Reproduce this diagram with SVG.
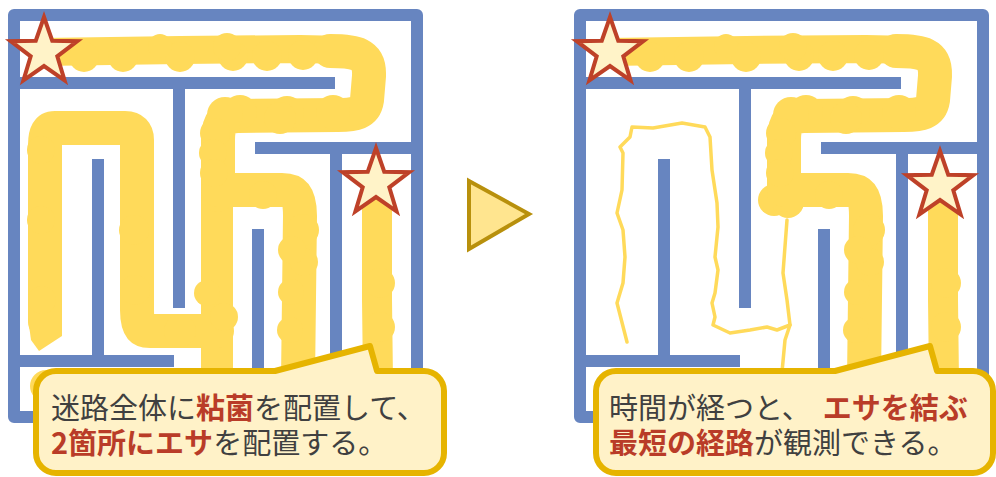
<svg xmlns="http://www.w3.org/2000/svg" xmlns:xlink="http://www.w3.org/1999/xlink" width="996" height="477" viewBox="0 0 996 477">
  <style>
    .wall { fill: none; stroke: #6785c0; stroke-width: 12; }
    .wall-outer { fill: none; stroke: #6785c0; stroke-width: 12; stroke-linejoin: round; }
    .slime { fill: none; stroke: #ffda5a; stroke-linecap: round; stroke-linejoin: round; }
    .slime-fill { fill: #ffda5a; }
    .trace { fill: none; stroke: #ffda5a; stroke-width: 3.5; stroke-linecap: round; stroke-linejoin: round; }
    .star { fill: #fff3c8; stroke: #be4128; stroke-width: 4; stroke-linejoin: miter; }
    .callout { fill: #fff2c8; stroke: #e6b400; stroke-width: 6; stroke-linejoin: round; }
    .caption { font-family: "Noto Sans CJK JP", "Noto Sans", sans-serif; font-size: 29px; fill: #404040; }
    .em { fill: #b93c28; font-weight: bold; }
    .arrow { fill: #ffe58f; stroke: #b8900c; stroke-width: 4; stroke-linejoin: miter; }
  </style>
  <defs>
    <!-- maze walls, local coordinates -->
    <g id="walls">
      <rect class="wall-outer" x="14" y="15" width="403" height="402"/>
      <path class="wall" d="M14,83 H335 M179,83 V308 M98,159 V361 M14,361 H174 M255,148 H417 M336,148 V417 M258,229 V417"/>
    </g>
    <!-- five-pointed star centred on 0,0 -->
    <polygon id="star" class="star" points="0,-35 8.23,-11.33 33.29,-10.82 13.31,4.33 20.57,28.32 0,14 -20.57,28.32 -13.31,4.33 -33.29,-10.82 -8.23,-11.33"/>
    <!-- slime body shared by both states -->
    <g id="trunk">
      <path class="slime" stroke-width="28" d="M42,52 L180,50 L300,49 L345,50"/>
      <path class="slime" stroke-width="34" d="M330,51 C355,51 370,53 369,76 L367,100 C365,113 355,115 338,115 L238,116 C222,116 218,124 218,140 L218,195"/>
      <path class="slime" stroke-width="34" d="M218,190 L282,190 C297,190 300,200 300,216 L298,380"/>
      <path class="slime" stroke-width="30" d="M377,206 L377,300 L378,380"/>
      <g class="slime-fill">
        <circle cx="84" cy="57" r="15"/>
        <circle cx="123" cy="57" r="15"/>
        <circle cx="180" cy="57" r="15"/>
        <circle cx="233" cy="56" r="15"/>
        <circle cx="267" cy="56" r="15"/>
        <circle cx="303" cy="55" r="15"/>
        <circle cx="160" cy="46" r="12"/>
        <circle cx="227" cy="47" r="14"/>
        <circle cx="240" cy="112" r="17"/>
        <circle cx="287" cy="113" r="17"/>
        <circle cx="333" cy="112" r="17"/>
        <circle cx="280" cy="118" r="16"/>
        <circle cx="225" cy="115" r="18"/>
        <circle cx="215" cy="133" r="15"/>
        <circle cx="213" cy="153" r="14"/>
        <circle cx="214" cy="173" r="14"/>
        <circle cx="263" cy="195" r="14"/>
        <circle cx="303" cy="230" r="16"/>
        <circle cx="304" cy="262" r="14"/>
        <circle cx="292" cy="250" r="14"/>
        <circle cx="291" cy="292" r="13"/>
        <circle cx="290" cy="330" r="13"/>
        <circle cx="380" cy="283" r="15"/>
        <circle cx="380" cy="327" r="15"/>
      </g>
    </g>
  </defs>

  <!-- left maze: slime spread over the whole maze -->
  <g id="maze-left">
    <use xlink:href="#walls"/>
    <g id="slime-left">
      <circle class="slime-fill" cx="46" cy="386" r="16"/>
      <path class="slime" stroke-width="32" d="M217,190 L217,380"/>
      <path class="slime" stroke-width="34" stroke-linecap="butt" d="M217,331 L150,331 C140,331 137,325 137,310 L137,140 C137,132 133,128 125,128 L55,128 C48,128 45,133 45,145 L45,322"/>
      <polygon class="slime-fill" points="28,318 62,318 62,336 39,351 31,340"/>
      <g class="slime-fill">
        <circle cx="207" cy="293" r="13"/>
        <circle cx="224" cy="317" r="14"/>
        <circle cx="134" cy="230" r="15"/>
        <circle cx="135" cy="290" r="15"/>
        <circle cx="41" cy="150" r="14"/>
        <circle cx="41" cy="220" r="14"/>
        <circle cx="42" cy="300" r="14"/>
        <circle cx="180" cy="331" r="16"/>
      </g>
    </g>
    <use xlink:href="#trunk"/>
    <use xlink:href="#star" x="44" y="52"/>
    <use xlink:href="#star" x="376" y="183"/>
  </g>

  <!-- right maze: slime retracted to the shortest route -->
  <g id="maze-right" transform="translate(566,0)">
    <use xlink:href="#walls"/>
    <g id="slime-right">
      <path class="trace" d="M61,342 L51,303 L57,283 L59,257 L57,230 L51,213 L56,190 L57,153 L54,147 L64,137 L66,127 L87,128 L116,123 L139,127 L144,137 L146,170 L151,203 L152,227 L149,257 L152,270 L149,293 L146,303 L149,317 L147,325 L164,333 L184,330 L201,327 L211,330 L224,325"/>
      <path class="trace" d="M221,220 L217,273 L221,300 L224,325 L219,340 L216,372"/>
      <g class="slime-fill">
        <circle cx="208" cy="200" r="16"/>
        <circle cx="222" cy="202" r="16"/>
      </g>
    </g>
    <use xlink:href="#trunk"/>
    <use xlink:href="#star" x="44" y="52"/>
    <use xlink:href="#star" x="374" y="186"/>
  </g>

  <!-- step arrow -->
  <g id="step-arrow">
    <polygon class="arrow" points="469,181 529,214 469,249"/>
  </g>

  <!-- captions -->
  <g id="callout-left">
    <path class="callout" d="M56,371 L275,371 L370,346 L377,371 L424,371 A20,20 0 0 1 444,391 L444,453 A20,20 0 0 1 424,473 L56,473 A20,20 0 0 1 36,453 L36,391 A20,20 0 0 1 56,371 Z"/>
    <text class="caption" x="51" y="419">迷路全体に<tspan class="em">粘菌</tspan>を配置して、</text>
    <text class="caption" x="51" y="454"><tspan class="em">2箇所にエサ</tspan>を配置する。</text>
  </g>
  <g id="callout-right">
    <path class="callout" d="M616,371 L835,371 L930,346 L937,371 L973,371 A20,20 0 0 1 993,391 L993,453 A20,20 0 0 1 973,473 L616,473 A20,20 0 0 1 596,453 L596,391 A20,20 0 0 1 616,371 Z"/>
    <text class="caption" x="609" y="419">時間が経つと、<tspan class="em" dx="12">エサを結ぶ</tspan></text>
    <text class="caption" x="609" y="454"><tspan class="em">最短の経路</tspan>が観測できる。</text>
  </g>
</svg>
